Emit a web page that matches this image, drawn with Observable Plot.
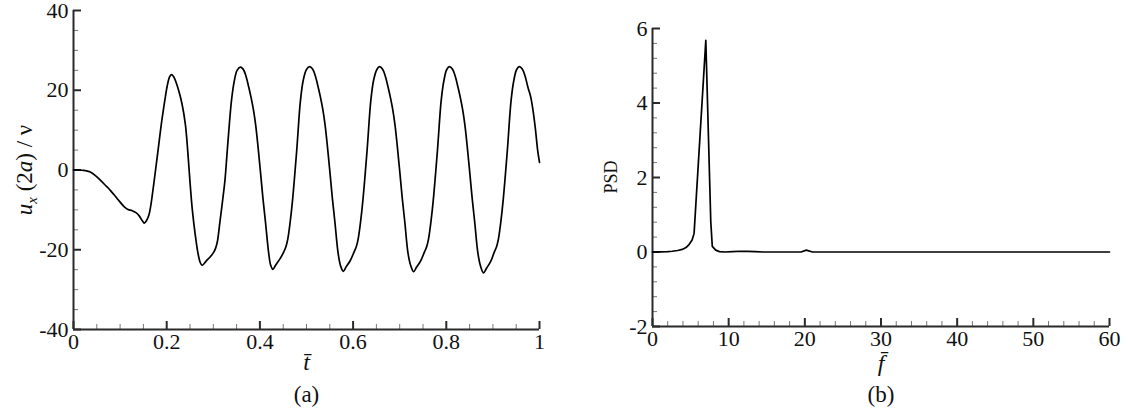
<!DOCTYPE html>
<html><head><meta charset="utf-8">
<script src="https://cdn.jsdelivr.net/npm/d3@7"></script>
<script src="https://cdn.jsdelivr.net/npm/@observablehq/plot@0.6"></script>
<style>
body{margin:0;background:#fff;}
#wrap{position:relative;width:1131px;height:413px;overflow:hidden;background:#fff;}
#wrap svg{position:absolute;top:0;font-family:'Liberation Serif','Times New Roman',serif;}
#wrap svg text{font-family:'Liberation Serif','Times New Roman',serif;}
</style></head><body><div id="wrap"></div>
<script>
// ---- Panel (a): time series ----
const tBar = [
 0, 0.012, 0.022, 0.030, 0.036, 0.047, 0.058, 0.069, 0.079, 0.094, 0.108, 0.117, 0.126, 0.134, 0.141, 0.147, 0.152, 0.157, 0.162, 0.166, 0.170, 0.175, 0.180, 0.185, 0.190, 0.196, 0.201, 0.206, 0.210, 0.215, 0.220, 0.226, 0.233, 0.240, 0.245, 0.250, 0.255, 0.261, 0.267, 0.272, 0.276,
 0.285, 0.294, 0.301, 0.305, 0.309, 0.314, 0.320, 0.325, 0.330, 0.339, 0.345, 0.351, 0.358,
 0.364, 0.370, 0.376, 0.381, 0.386, 0.391, 0.396, 0.401, 0.406, 0.412, 0.419, 0.423, 0.428,
 0.434, 0.443, 0.451, 0.456, 0.460, 0.465, 0.470, 0.479, 0.487, 0.493, 0.500, 0.507,
 0.513, 0.519, 0.525, 0.530, 0.535, 0.540, 0.545, 0.550, 0.555, 0.561, 0.568, 0.573, 0.579,
 0.585, 0.594, 0.602, 0.607, 0.611, 0.616, 0.621, 0.630, 0.638, 0.644, 0.651, 0.657,
 0.663, 0.669, 0.675, 0.680, 0.685, 0.690, 0.695, 0.700, 0.705, 0.711, 0.718, 0.724, 0.730,
 0.736, 0.745, 0.753, 0.758, 0.762, 0.767, 0.772, 0.781, 0.789, 0.795, 0.801, 0.807,
 0.813, 0.819, 0.825, 0.830, 0.835, 0.840, 0.845, 0.850, 0.855, 0.861, 0.868, 0.874, 0.880,
 0.886, 0.895, 0.903, 0.908, 0.912, 0.917, 0.922, 0.931, 0.939, 0.945, 0.951, 0.957,
 0.963, 0.969, 0.975, 0.981, 0.986, 0.991, 0.996, 1.000
];
const uVel = [
 0, 0, -0.1, -0.3, -0.5, -1.4, -2.6, -3.9, -5.1, -7.2, -9.1, -9.9, -10.2, -10.7, -11.5, -12.6, -13.3, -12.6, -11.2, -8.8, -5.5, -1.0, 3.6, 8.3, 12.8, 17.5, 21.0, 23.3, 23.9, 23.4, 22.0, 19.8, 16.5, 11.5, 5.0, -3.0, -10.0, -16.0, -20.8, -23.2, -23.9,
 -22.8, -21.7, -20.6, -19.6, -17.8, -13.2, -7.6, -2.6, 4.9, 17.4, 22.3, 25.0, 25.8,
 25.3, 23.6, 20.8, 18.2, 15.2, 11.2, 5.8, -0.2, -6.5, -13.1, -21.0, -23.8, -24.9,
 -23.8, -22.3, -20.6, -19.2, -17.2, -13.0, -7.6, 4.9, 17.4, 22.5, 25.2, 25.9,
 25.3, 23.6, 20.8, 18.2, 15.2, 11.2, 5.8, -0.2, -6.5, -13.1, -21.0, -24.0, -25.4,
 -24.3, -22.7, -20.6, -19.2, -17.2, -13.0, -7.6, 4.9, 17.4, 22.5, 25.2, 25.9,
 25.3, 23.6, 20.8, 18.2, 15.2, 11.2, 5.8, -0.2, -6.5, -13.1, -21.0, -24.1, -25.5,
 -24.4, -22.8, -20.6, -19.2, -17.2, -13.0, -7.6, 4.9, 17.4, 22.5, 25.2, 25.9,
 25.3, 23.6, 20.8, 18.2, 15.2, 11.2, 5.8, -0.2, -6.5, -13.1, -21.0, -24.3, -25.8,
 -24.7, -23.0, -20.6, -19.2, -17.2, -13.0, -7.6, 4.9, 17.4, 22.5, 25.2, 25.9,
 25.3, 23.6, 20.8, 18.4, 15.0, 10.5, 5.0, 1.9
];
const tMajor = [0, 0.2, 0.4, 0.6, 0.8, 1];
const tMinor = [0.05, 0.1, 0.15, 0.25, 0.3, 0.35, 0.45, 0.5, 0.55, 0.65, 0.7, 0.75, 0.85, 0.9, 0.95];
const uMajor = [-40, -20, 0, 20, 40];
const uMinor = [-35, -30, -25, -15, -10, -5, 5, 10, 15, 25, 30, 35];

// ---- Panel (b): power spectral density ----
const freq = [0, 1, 2, 2.6, 3.3, 3.9, 4.4, 4.8, 5.2, 5.46, 7.0, 7.65, 7.85, 8.3, 8.8, 9.5, 10.5, 11.5, 12.5, 13.5, 14.5, 17, 19.5, 20.2, 21, 25, 40, 60];
const psd  = [0, 0.003, 0.01, 0.02, 0.04, 0.07, 0.12, 0.2, 0.32, 0.5, 5.68, 0.82, 0.15, 0.05, 0.01, 0.0, 0.01, 0.02, 0.015, 0.01, 0.0, 0.0, 0.0, 0.05, 0.0, 0.0, 0.0, 0.0];
const fMajor = [0, 10, 20, 30, 40, 50, 60];
const fMinor = [2, 4, 6, 8, 12, 14, 16, 18, 22, 24, 26, 28, 32, 34, 36, 38, 42, 44, 46, 48, 52, 54, 56, 58];
const pMajor = [-2, 0, 2, 4, 6];
const pMinor = [-1.6, -1.2, -0.8, -0.4, 0.4, 0.8, 1.2, 1.6, 2.4, 2.8, 3.2, 3.6, 4.4, 4.8, 5.2, 5.6];

const FONT = "'Liberation Serif', 'Times New Roman', serif";
const AX = "#2a2a2a";

function panel(o) {
  const iw = o.width - o.ml - o.mr, ih = o.height - o.mt - o.mb;
  const data = o.xs.map((x, i) => ({x, y: o.ys[i]}));
  return Plot.plot({
    width: o.width, height: o.height,
    marginLeft: o.ml, marginRight: o.mr, marginTop: o.mt, marginBottom: o.mb,
    x: {domain: o.xDomain, label: null},
    y: {domain: o.yDomain, label: null},
    style: {fontFamily: FONT, fontSize: "22px", color: "#111", background: "transparent", overflow: "visible"},
    marks: [
      Plot.ruleX(o.xMinor, {x: d => d, insetTop: ih - 5, stroke: "#777", strokeWidth: 1}),
      Plot.ruleX(o.xMajor, {x: d => d, insetTop: ih - 8, stroke: AX, strokeWidth: 2}),
      Plot.ruleY(o.yMinor, {y: d => d, insetRight: iw - 5, stroke: "#777", strokeWidth: 1}),
      Plot.ruleY(o.yMajor, {y: d => d, insetRight: iw - 8, stroke: AX, strokeWidth: 2}),
      Plot.ruleX([o.xDomain[0]], {x: d => d, stroke: AX, strokeWidth: 2}),
      Plot.ruleY([o.yDomain[0]], {y: d => d, stroke: AX, strokeWidth: 2}),
      Plot.line(data, {x: "x", y: "y", curve: o.curve, stroke: "#000", strokeWidth: 1.7}),
      Plot.axisX(o.xMajor, {tickSize: 0, tickPadding: 4, tickFormat: d => String(d), fontSize: 22, label: null}),
      Plot.axisY(o.yMajor, {tickSize: 0, tickPadding: 5, tickFormat: d => String(d), fontSize: 22, label: null}),
      Plot.text([o.xLabel], {text: d => d, frameAnchor: "bottom", dy: o.xLabelDy, fontStyle: "italic", fontSize: 24}),
      Plot.text([o.caption], {text: d => d, frameAnchor: "bottom", dy: o.captionDy, fontSize: 23})
    ]
  });
}

const wrap = document.getElementById("wrap");

const left = panel({
  xs: tBar, ys: uVel, xDomain: [0, 1], yDomain: [-40, 40],
  xMajor: tMajor, xMinor: tMinor, yMajor: uMajor, yMinor: uMinor,
  width: 559, height: 413, ml: 73, mr: 20, mt: 10, mb: 84,
  curve: "catmull-rom", xLabel: "t\u0304", xLabelDy: 40, caption: "(a)", captionDy: 72
});
left.style.left = "0px";
wrap.appendChild(left);

// y label of panel (a): u_x (2a) / ν
const yl = d3.select(left).append("text")
  .attr("transform", "translate(32,170) rotate(-90)")
  .attr("text-anchor", "middle")
  .attr("font-size", 23).attr("fill", "#111");
yl.append("tspan").attr("font-style", "italic").text("u");
yl.append("tspan").attr("font-style", "italic").attr("font-size", 15).attr("dy", 5).text("x");
yl.append("tspan").attr("dy", -5).text(" (2");
yl.append("tspan").attr("font-style", "italic").text("a");
yl.append("tspan").text(") / ν");

const right = panel({
  xs: freq, ys: psd, xDomain: [0, 60], yDomain: [-2, 6],
  xMajor: fMajor, xMinor: fMinor, yMajor: pMajor, yMinor: pMinor,
  width: 551, height: 413, ml: 72, mr: 22, mt: 28, mb: 87,
  curve: "linear", xLabel: "f\u0304", xLabelDy: 44, caption: "(b)", captionDy: 75
});
right.style.left = "580px";
wrap.appendChild(right);

d3.select(right).append("text")
  .attr("transform", "translate(37,177) rotate(-90)")
  .attr("text-anchor", "middle")
  .attr("font-size", 18).attr("fill", "#111")
  .text("PSD");
</script>
</body></html>
